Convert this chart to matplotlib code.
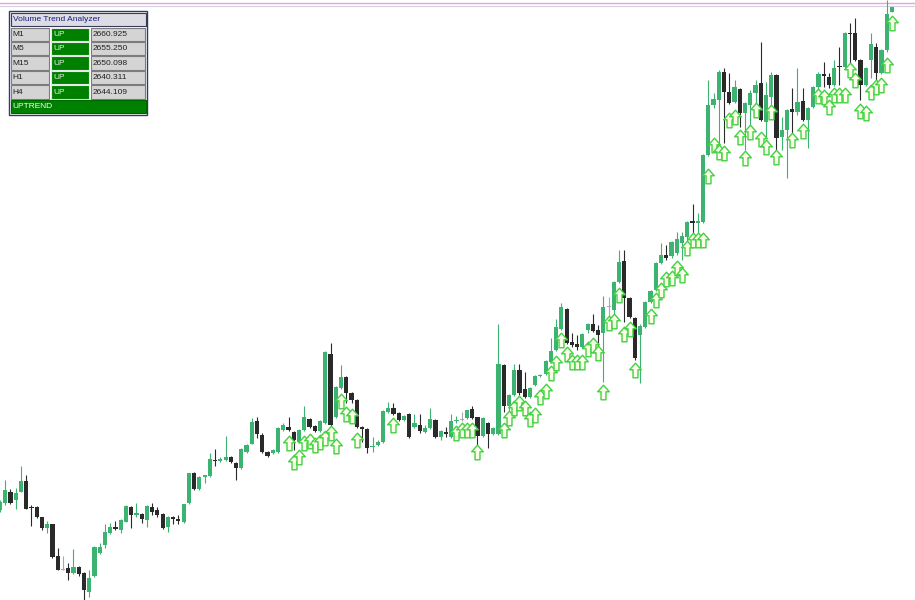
import numpy as np
import matplotlib.pyplot as plt
from matplotlib.path import Path
from matplotlib.patches import Rectangle

# OHLC of each bar, oldest first
opens = [2611.0, 2611.7, 2612.8, 2612.0, 2612.8, 2613.9, 2611.3, 2611.3, 2610.3, 2609.2,
         2609.6, 2606.4, 2605.1, 2605.2, 2604.7, 2605.3, 2604.7, 2602.8, 2604.4, 2606.7,
         2607.5, 2608.7, 2609.3, 2609.0, 2609.8, 2611.3, 2610.5, 2610.6, 2610.0, 2611.3,
         2611.0, 2610.6, 2609.3, 2610.3, 2610.1, 2609.8, 2611.7, 2614.7, 2613.1, 2614.3,
         2614.4, 2616.0, 2615.9, 2616.0, 2616.3, 2615.7, 2615.2, 2616.8, 2617.6, 2619.9,
         2618.5, 2616.8, 2616.7, 2616.8, 2619.0, 2619.3, 2618.8, 2617.8, 2619.0, 2620.1,
         2619.4, 2618.9, 2619.7, 2626.6, 2620.3, 2623.2, 2624.3, 2622.7, 2622.0, 2619.3,
         2619.1, 2617.3, 2617.5, 2617.8, 2620.8, 2621.2, 2620.7, 2620.0, 2620.6, 2619.3,
         2619.5, 2618.8, 2619.2, 2620.0, 2618.3, 2618.8, 2618.3, 2619.9, 2620.1, 2620.2,
         2621.1, 2620.3, 2618.4, 2619.7, 2618.6, 2618.6, 2625.5, 2621.4, 2622.5, 2625.0,
         2623.1, 2622.3, 2623.5, 2624.4, 2624.6, 2625.8, 2627.0, 2629.1, 2631.1, 2627.8,
         2627.6, 2627.3, 2629.0, 2629.6, 2629.0, 2628.7, 2631.4, 2631.0, 2633.8, 2635.9,
         2632.2, 2630.2, 2628.5, 2629.3, 2631.8, 2633.0, 2635.7, 2636.5, 2636.4, 2636.7,
         2637.7, 2638.3, 2639.9, 2639.7, 2639.8, 2646.5, 2651.5, 2652.0, 2654.8, 2652.8,
         2651.8, 2653.1, 2650.7, 2651.5, 2652.7, 2653.7, 2649.8, 2652.3, 2654.5, 2648.3,
         2649.0, 2651.1, 2650.8, 2651.9, 2650.0, 2651.3, 2653.3, 2654.6, 2654.3, 2653.5,
         2655.4, 2655.3, 2658.7, 2658.7, 2656.0, 2653.5, 2656.0, 2657.3, 2654.7, 2657.0,
         2660.8]
highs = [2612.0, 2614.0, 2613.1, 2613.2, 2615.4, 2614.5, 2611.5, 2611.4, 2610.3, 2609.9,
         2609.6, 2607.2, 2606.4, 2605.7, 2607.1, 2605.4, 2604.8, 2605.0, 2607.4, 2607.7,
         2609.6, 2609.7, 2609.9, 2610.1, 2611.5, 2611.4, 2611.7, 2610.7, 2611.5, 2611.7,
         2611.3, 2610.7, 2610.4, 2610.4, 2610.5, 2611.6, 2614.7, 2614.8, 2614.4, 2614.5,
         2616.7, 2617.1, 2616.3, 2618.4, 2616.4, 2615.8, 2617.2, 2617.6, 2620.2, 2620.3,
         2618.7, 2616.9, 2617.1, 2619.3, 2619.7, 2620.3, 2618.9, 2619.1, 2621.4, 2620.2,
         2619.5, 2620.0, 2626.9, 2627.7, 2623.4, 2625.5, 2624.4, 2622.8, 2622.1, 2619.4,
         2619.2, 2618.3, 2618.0, 2621.0, 2621.8, 2621.7, 2620.8, 2620.5, 2620.7, 2620.6,
         2620.6, 2619.5, 2621.2, 2620.1, 2619.0, 2619.3, 2620.6, 2620.4, 2620.8, 2621.0,
         2621.4, 2620.3, 2620.3, 2619.8, 2619.3, 2629.6, 2625.6, 2622.6, 2625.6, 2625.6,
         2624.8, 2623.3, 2624.5, 2624.6, 2626.0, 2628.2, 2630.1, 2631.7, 2631.2, 2628.7,
         2628.5, 2628.7, 2629.7, 2630.6, 2629.5, 2632.4, 2632.3, 2633.9, 2637.0, 2637.0,
         2632.3, 2630.3, 2629.6, 2631.9, 2633.0, 2635.8, 2637.7, 2637.5, 2637.9, 2638.8,
         2638.8, 2639.9, 2641.6, 2640.7, 2646.6, 2654.0, 2652.7, 2655.0, 2655.2, 2654.7,
         2654.0, 2653.2, 2651.8, 2653.0, 2654.0, 2657.8, 2653.8, 2654.8, 2654.6, 2650.3,
         2651.1, 2653.2, 2655.2, 2653.2, 2651.3, 2653.4, 2654.8, 2655.8, 2654.7, 2656.0,
         2657.3, 2658.8, 2659.7, 2660.2, 2656.1, 2655.3, 2658.7, 2657.7, 2657.1, 2662.0,
         2661.3]
lows = [2610.8, 2611.5, 2611.6, 2611.1, 2612.8, 2611.1, 2609.4, 2610.2, 2609.0, 2608.7,
        2606.2, 2605.0, 2605.0, 2604.0, 2604.6, 2604.4, 2602.0, 2602.3, 2604.3, 2606.6,
        2607.2, 2608.6, 2609.0, 2608.7, 2609.8, 2609.2, 2610.3, 2609.7, 2609.3, 2610.5,
        2610.3, 2609.1, 2608.8, 2609.6, 2609.6, 2609.7, 2611.6, 2613.0, 2613.0, 2613.7,
        2614.3, 2615.4, 2615.8, 2615.9, 2615.7, 2614.0, 2615.1, 2616.7, 2617.6, 2618.2,
        2616.7, 2616.3, 2616.6, 2616.7, 2618.9, 2618.9, 2617.0, 2617.7, 2618.9, 2619.2,
        2618.8, 2618.8, 2619.6, 2619.4, 2620.2, 2623.1, 2621.7, 2621.7, 2619.2, 2617.8,
        2616.7, 2616.8, 2617.4, 2617.7, 2620.7, 2620.5, 2619.9, 2619.9, 2618.2, 2619.2,
        2618.7, 2618.7, 2619.1, 2618.2, 2618.0, 2618.3, 2618.2, 2619.7, 2619.9, 2620.1,
        2620.1, 2617.3, 2618.3, 2617.2, 2618.5, 2618.5, 2620.8, 2620.5, 2622.4, 2622.5,
        2622.2, 2622.2, 2623.4, 2624.3, 2624.5, 2625.7, 2626.9, 2629.0, 2627.6, 2627.3,
        2627.0, 2627.2, 2628.7, 2628.8, 2627.3, 2623.8, 2629.7, 2630.5, 2633.7, 2629.8,
        2630.2, 2626.0, 2623.7, 2629.2, 2631.7, 2632.9, 2635.6, 2636.0, 2636.2, 2636.5,
        2636.0, 2637.3, 2638.3, 2638.7, 2639.7, 2646.4, 2651.2, 2647.2, 2647.7, 2651.6,
        2651.7, 2649.3, 2647.0, 2649.0, 2651.0, 2649.9, 2648.3, 2651.2, 2647.0, 2647.0,
        2644.2, 2648.7, 2650.5, 2649.9, 2647.2, 2651.2, 2652.0, 2653.3, 2653.2, 2653.4,
        2653.5, 2655.2, 2654.8, 2655.9, 2652.0, 2653.4, 2654.2, 2653.8, 2654.6, 2656.8,
        2660.8]
closes = [2611.8, 2613.0, 2611.7, 2612.7, 2613.9, 2611.1, 2611.2, 2610.3, 2609.2, 2609.6,
          2606.3, 2605.0, 2605.1, 2604.7, 2605.3, 2604.6, 2603.0, 2604.2, 2607.3, 2607.3,
          2608.8, 2609.3, 2609.1, 2610.0, 2611.4, 2610.5, 2610.7, 2610.1, 2611.4, 2610.8,
          2610.5, 2609.2, 2610.3, 2610.1, 2609.9, 2611.6, 2614.7, 2613.1, 2614.3, 2614.5,
          2616.1, 2615.9, 2616.1, 2616.3, 2615.8, 2615.2, 2617.1, 2617.5, 2619.8, 2618.6,
          2616.8, 2616.4, 2617.0, 2619.2, 2619.5, 2619.0, 2618.0, 2619.0, 2620.3, 2619.3,
          2618.9, 2619.9, 2626.8, 2619.5, 2623.3, 2624.3, 2622.7, 2622.0, 2619.3, 2619.1,
          2617.2, 2617.4, 2617.8, 2620.9, 2621.2, 2620.6, 2620.0, 2620.4, 2618.3, 2619.7,
          2618.9, 2619.2, 2620.1, 2618.3, 2618.9, 2618.6, 2619.9, 2620.0, 2620.1, 2621.0,
          2620.2, 2618.4, 2620.2, 2618.6, 2619.2, 2625.6, 2621.4, 2622.5, 2625.0, 2622.7,
          2622.3, 2623.2, 2624.4, 2624.5, 2625.9, 2626.9, 2629.3, 2631.3, 2627.7, 2627.5,
          2627.3, 2628.6, 2629.6, 2628.9, 2628.5, 2631.3, 2631.4, 2633.8, 2635.8, 2632.2,
          2630.3, 2626.2, 2629.4, 2631.8, 2632.9, 2635.7, 2636.5, 2636.2, 2637.8, 2638.1,
          2638.4, 2639.8, 2639.7, 2639.9, 2646.5, 2651.5, 2652.1, 2654.8, 2652.8, 2651.7,
          2653.3, 2650.7, 2651.7, 2652.7, 2653.5, 2650.0, 2652.5, 2654.5, 2648.2, 2649.0,
          2651.0, 2650.8, 2651.8, 2650.0, 2651.2, 2653.3, 2654.6, 2654.4, 2653.5, 2655.2,
          2655.3, 2658.7, 2658.6, 2656.0, 2653.5, 2655.2, 2657.6, 2654.7, 2657.0, 2660.6,
          2661.3]

# buy-signal arrows: bar index and price level of the arrow
arrow_bars = [55, 56, 57, 58, 59, 60, 61, 62, 63, 64, 65, 66, 67, 68, 75,
              87, 88, 89, 90, 91, 96, 97, 98, 99, 100, 101, 102, 103, 104, 105,
              106, 107, 108, 109, 110, 111, 112, 113, 114, 115, 116, 117, 118, 119, 120,
              121, 124, 125, 126, 127, 128, 129, 130, 131, 132, 133, 134, 135, 136, 137,
              138, 139, 140, 141, 142, 143, 144, 145, 146, 147, 148, 151, 153, 156, 157,
              158, 159, 160, 161, 162, 163, 164, 165, 166, 167, 168, 169, 170]
arrow_prices = [2617.7, 2615.8, 2616.3, 2617.7, 2617.9, 2617.5, 2617.8, 2618.2, 2618.7, 2617.4,
                2621.9, 2620.6, 2620.4, 2618.0, 2619.5,
                2618.7, 2619.0, 2619.0, 2619.0, 2616.8, 2619.0, 2620.2, 2621.2, 2621.7, 2621.2,
                2620.1, 2620.5, 2622.3, 2622.9, 2624.7,
                2625.7, 2628.0, 2626.6, 2625.8, 2625.8, 2625.8, 2627.1, 2627.5, 2626.7, 2622.8,
                2629.7, 2629.9, 2632.5, 2628.6, 2629.1,
                2625.0, 2630.4, 2632.0, 2633.0, 2634.1, 2634.2, 2635.2, 2634.5, 2637.2, 2638.0,
                2638.0, 2638.0, 2644.4, 2647.5, 2646.8,
                2646.7, 2650.0, 2650.3, 2648.3, 2646.2, 2648.8, 2651.0, 2648.1, 2647.3, 2650.8,
                2646.3, 2648.0, 2648.9, 2652.4, 2652.3,
                2651.3, 2652.5, 2652.5, 2652.5, 2655.0, 2654.0, 2650.9, 2650.7, 2652.8, 2653.3,
                2653.5, 2655.5, 2659.7]

# horizontal price lines at the top
bid_line = 2661.67
ask_line = 2661.4

# info panel
panel_title = 'Volume Trend Analyzer'
timeframes = ['M1', 'M5', 'M15', 'H1', 'H4']
signals = ['UP', 'UP', 'UP', 'UP', 'UP']
levels = [2660.925, 2655.250, 2650.098, 2640.311, 2644.109]
overall = 'UPTREND'

BULL = '#3cb371'
BEAR = '#2a2a2a'
DOJI = '#a9a9a9'

fig = plt.figure(figsize=(9.15, 6.0), dpi=100)
ax = fig.add_axes([0, 0, 1, 1])
ax.set_axis_off()

o = np.array(opens)
h = np.array(highs)
l = np.array(lows)
c = np.array(closes)
x = np.arange(len(o))

colors = np.where(c > o, BULL, np.where(c < o, BEAR, DOJI))
ax.vlines(x, l, h, colors=colors, linewidth=0.8, zorder=2)
body = np.abs(c - o)
mid = (o + c) / 2
body_h = np.maximum(body, 0.1)
ax.bar(x, body_h, bottom=mid - body_h / 2, width=0.8, color=colors,
       linewidth=0, zorder=3)

# hollow up arrow marker
arrow = Path([(0, 0.5), (0.4, 0.05), (0.17, 0.05), (0.17, -0.5),
              (-0.17, -0.5), (-0.17, 0.05), (-0.4, 0.05), (0, 0.5)],
             [Path.MOVETO] + [Path.LINETO] * 6 + [Path.CLOSEPOLY])
ax.plot(arrow_bars, arrow_prices, linestyle='none', marker=arrow, markersize=10.5,
        markerfacecolor='#fbfde9', markeredgecolor='#42d142', markeredgewidth=1.0,
        zorder=4)

ax.axhline(bid_line, color='#e8a4d8', linewidth=1.0, zorder=1)
ax.axhline(ask_line, color='#d2d0e0', linewidth=0.8, zorder=1)

ax.set_xlim(0, 174.4)
ax.set_ylim(2602, 2662)

# panel overlay in pixel units
ov = fig.add_axes([0, 0, 1, 1])
ov.set_axis_off()
ov.set_xlim(0, 915)
ov.set_ylim(600, 0)

fs = 6
font = 'Liberation Sans'
ov.add_patch(Rectangle((9, 11), 138, 104, facecolor='white', edgecolor='#2c3a6e', linewidth=1.0))
ov.add_patch(Rectangle((10.5, 12.5), 135, 13.5, facecolor='#dcdce4', edgecolor='#3a3a5a', linewidth=0.8))
ov.text(13, 19.5, panel_title, fontsize=fs, family=font, color='#1a1a80', va='center')

for k, (tf, sig, lev) in enumerate(zip(timeframes, signals, levels)):
    top = 27.5 + k * 14.4
    ov.add_patch(Rectangle((10.5, top), 38.5, 13.5, facecolor='#d4d4d4', edgecolor='#7c7c7c', linewidth=0.8))
    ov.add_patch(Rectangle((50.5, top), 38.5, 13.5, facecolor='#008000', edgecolor='#e8e8e8', linewidth=0.8))
    ov.add_patch(Rectangle((90.5, top), 54.5, 13.5, facecolor='#d4d4d4', edgecolor='#7c7c7c', linewidth=0.8))
    ov.text(12.5, top + 7, tf, fontsize=fs, family=font, color='#202020', va='center')
    ov.text(53, top + 7, sig, fontsize=fs, family=font, color='#e6f5e6', va='center')
    ov.text(93, top + 7, '%.3f' % lev, fontsize=fs, family=font, color='#202020', va='center')

ov.add_patch(Rectangle((10.5, 99.5), 135, 13.5, facecolor='#008000', edgecolor='#006400', linewidth=0.8))
ov.text(12.5, 106.5, overall, fontsize=fs, family=font, color='white', va='center')

fig.savefig('out.png', dpi=100, facecolor='white')
